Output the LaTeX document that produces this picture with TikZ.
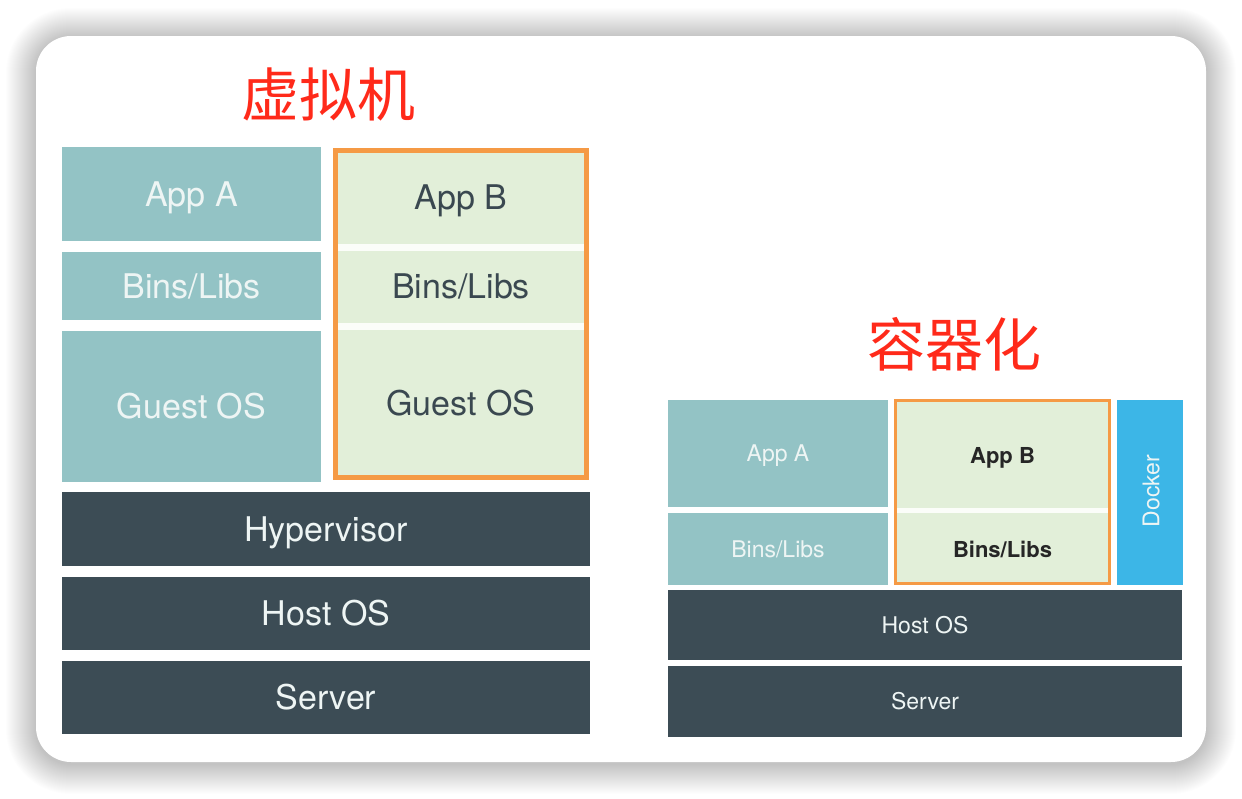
\documentclass[tikz,border=0pt]{standalone}
\usepackage{fontspec}
\setmainfont{TeX Gyre Heros}
\newfontfamily\cjk{Noto Sans CJK SC}
\definecolor{tealbox}{HTML}{93C3C5}
\definecolor{darkbox}{HTML}{3C4C55}
\definecolor{greenbox}{HTML}{E2EFD9}
\definecolor{orangeline}{HTML}{F59A45}
\definecolor{dockerblue}{HTML}{3CB6E7}
\definecolor{titlered}{HTML}{FF2A1A}
\definecolor{lighttext}{HTML}{EEF5F4}
\definecolor{greytext}{HTML}{3A4850}
\begin{document}
\begin{tikzpicture}[x=1pt,y=-1pt,
  cell/.style={inner sep=0pt, outer sep=0pt, draw=none, text height=#1, text depth=0pt},
  cell/.default=24pt,
  bigfont/.style={font=\fontsize{34}{34}\selectfont},
  smallfont/.style={font=\fontsize{23}{23}\selectfont},
  smallbold/.style={font=\fontsize{22}{22}\selectfont\bfseries},
  title/.style={inner sep=0pt, text=titlered, font=\cjk\fontsize{58}{58}\selectfont}
]
\useasboundingbox (0,0) rectangle (1242,798);
\fill[white] (0,0) rectangle (1242,798);
% soft shadow
\foreach \e in {30,29,...,1}{
  \fill[black, opacity=0.0065, rounded corners={35pt+\e pt}] (36-\e,36-\e+2) rectangle (1206+\e,762+\e+2);
}
\node[fill=white, rounded corners=35pt, inner sep=0pt, minimum width=1170pt, minimum height=726pt] (card) at (621,399) {};

% titles
\node[title] (t1) at (328,94) {虚拟机};
\node[title] (t2) at (954,344) {容器化};

% ---------- left: virtual machines ----------
\node[cell, bigfont, fill=tealbox, text=lighttext, minimum width=259pt, minimum height=94pt] (lappa) at (191.5,194) {App A};
\node[cell, bigfont, fill=tealbox, text=lighttext, minimum width=259pt, minimum height=68pt] (lbinsa) at (191.5,286) {Bins/Libs};
\node[cell, bigfont, fill=tealbox, text=lighttext, minimum width=259pt, minimum height=151pt] (lguesta) at (191.5,406.5) {Guest OS};

\node[inner sep=0pt, fill=greenbox, draw=orangeline, line width=5pt, minimum width=251pt, minimum height=327pt] (lvmb) at (461,314) {};
\fill[white!85!greenbox] (338,243.5) rectangle (584,250.5);
\fill[white!85!greenbox] (338,322.5) rectangle (584,329.5);
\node[cell, bigfont, text=greytext] (lappb) at (461,197.5) {App B};
\node[cell, bigfont, text=greytext] (lbinsb) at (461,286.5) {Bins/Libs};
\node[cell, bigfont, text=greytext] (lguestb) at (461,403.5) {Guest OS};

\node[cell, bigfont, fill=darkbox, text=lighttext, minimum width=528pt, minimum height=74pt] (hyper) at (326,529) {Hypervisor};
\node[cell, bigfont, fill=darkbox, text=lighttext, minimum width=528pt, minimum height=73pt] (lhost) at (326,613.5) {Host OS};
\node[cell, bigfont, fill=darkbox, text=lighttext, minimum width=528pt, minimum height=73pt] (lserver) at (326,697.5) {Server};

% ---------- right: containers ----------
\node[cell=16.5pt, smallfont, fill=tealbox, text=lighttext, minimum width=220pt, minimum height=107pt] (rappa) at (778,453.5) {App A};
\node[cell=16.5pt, smallfont, fill=tealbox, text=lighttext, minimum width=220pt, minimum height=72pt] (rbinsa) at (778,549) {Bins/Libs};

\node[inner sep=0pt, fill=greenbox, draw=orangeline, line width=3pt, minimum width=214pt, minimum height=183pt] (rcontb) at (1002.5,492) {};
\fill[white!85!greenbox] (897,507.5) rectangle (1108,512.5);
\node[cell=16pt, smallbold, text=black!85] (rappb) at (1002.5,455) {App B};
\node[cell=16pt, smallbold, text=black!85] (rbinsb) at (1002.5,549) {Bins/Libs};

\node[inner sep=0pt, fill=dockerblue, minimum width=66pt, minimum height=185pt] (docker) at (1150,492.5) {};
\node[cell=16.5pt, smallfont, text=lighttext, rotate=90] (dockert) at (1151,491) {Docker};

\node[cell=16.5pt, smallfont, fill=darkbox, text=lighttext, minimum width=514pt, minimum height=70pt] (rhost) at (925,625) {Host OS};
\node[cell=16.5pt, smallfont, fill=darkbox, text=lighttext, minimum width=514pt, minimum height=71pt] (rserver) at (925,701.5) {Server};
\end{tikzpicture}
\end{document}
